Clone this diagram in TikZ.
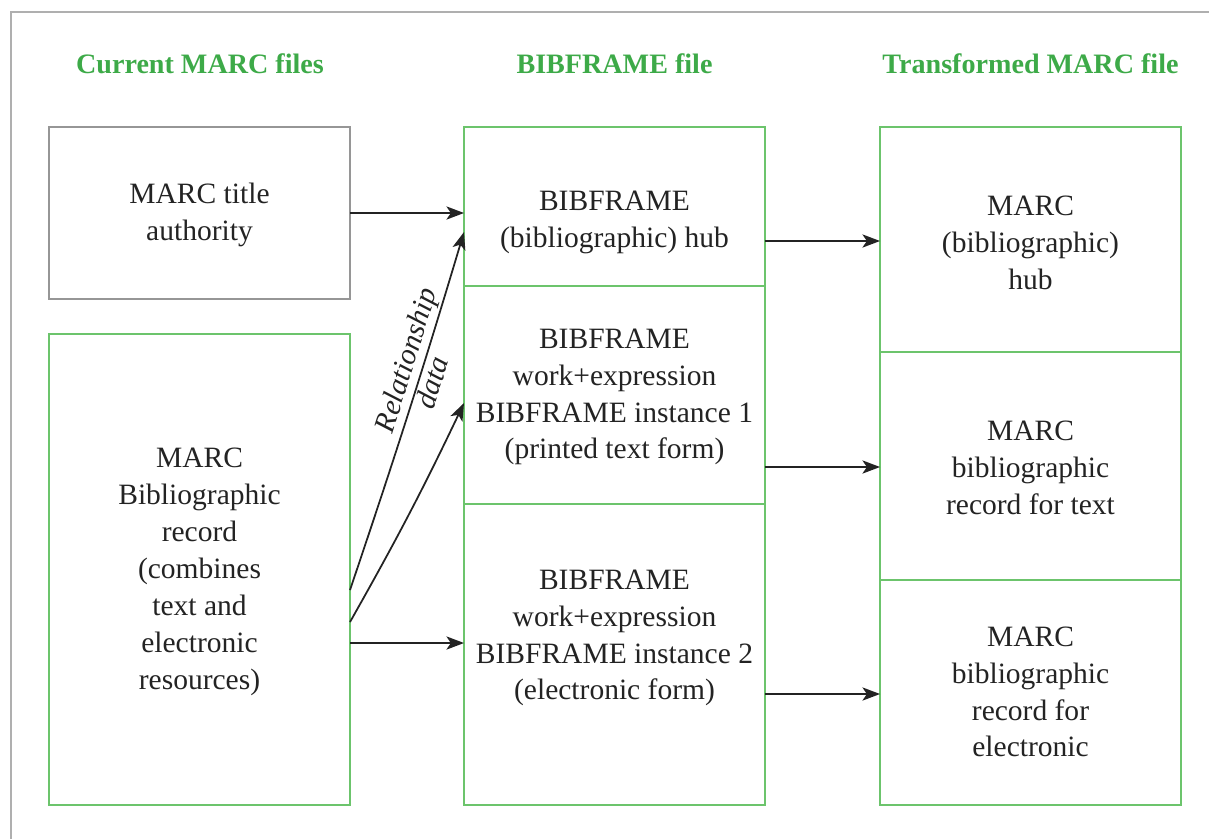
\documentclass[tikz,border=0pt]{standalone}
\usepackage{fontspec}
\setmainfont{Liberation Serif}
\usetikzlibrary{arrows.meta}
\definecolor{boxgreen}{RGB}{108,196,108}
\definecolor{headgreen}{RGB}{61,170,72}
\definecolor{boxgray}{RGB}{150,150,150}
\definecolor{framegray}{RGB}{175,175,175}
\definecolor{inkgray}{RGB}{35,35,35}
\tikzset{
  cell/.style={draw=boxgreen, line width=0.85pt, inner sep=0pt, outer sep=0pt, minimum width=6.02cm},
  graycell/.style={cell, draw=boxgray},
  heading/.style={text=headgreen, font=\fontsize{16}{19}\selectfont\bfseries},
  celltext/.style={text=inkgray, align=center, font=\fontsize{16.8}{21}\selectfont},
  slanted/.style={text=inkgray, sloped, inner sep=1pt, font=\fontsize{16.8}{21}\selectfont\itshape},
  link/.style={-{Stealth[length=10pt,width=7.5pt,inset=2.5pt]}, line width=1pt, draw=inkgray}
}
\begin{document}
\begin{tikzpicture}[x=0.02cm,y=-0.02cm]
  \useasboundingbox (0,0) rectangle (1209,839);
  \draw[framegray, line width=0.85pt] (11,839) -- (11,12) -- (1209,12);
  % column headings
  \node[heading] (hcur) at (200,64) {Current MARC files};
  \node[heading] (hbib) at (614.5,64) {BIBFRAME file};
  \node[heading] (htra) at (1030.5,64) {Transformed MARC file};
  % current MARC files
  \node[graycell, minimum height=3.44cm] (mtitle) at (199.5,213) {};
  \node[cell, minimum height=9.42cm] (mbib) at (199.5,569.5) {};
  \node[celltext] (mtitlet) at (199.5,215) {MARC title\\authority};
  \node[celltext] (mbibt) at (199.5,572) {MARC\\Bibliographic\\record\\(combines\\text and\\electronic\\resources)};
  % BIBFRAME file
  \node[cell, minimum height=3.18cm] (hub) at (614.5,206.5) {};
  \node[cell, minimum height=4.36cm] (inst1) at (614.5,395) {};
  \node[cell, minimum height=6.02cm] (inst2) at (614.5,654.5) {};
  \node[celltext] (hubt) at (614.5,222) {BIBFRAME\\(bibliographic) hub};
  \node[celltext] (inst1t) at (614.5,397) {BIBFRAME\\work+expression\\BIBFRAME instance 1\\(printed text form)};
  \node[celltext] (inst2t) at (614.5,638) {BIBFRAME\\work+expression\\BIBFRAME instance 2\\(electronic form)};
  % transformed MARC file
  \node[cell, minimum height=4.5cm] (rhub) at (1030.5,239.5) {};
  \node[cell, minimum height=4.56cm] (rtext) at (1030.5,466) {};
  \node[cell, minimum height=4.5cm] (relec) at (1030.5,692.5) {};
  \node[celltext] (rhubt) at (1030.5,243) {MARC\\(bibliographic)\\hub};
  \node[celltext] (rtextt) at (1030.5,468) {MARC\\bibliographic\\record for text};
  \node[celltext] (relect) at (1030.5,692) {MARC\\bibliographic\\record for\\electronic};
  % connectors
  \coordinate (relA) at (350,590);
  \coordinate (relB) at (350,622);
  \coordinate (relC) at (350,643);
  \coordinate (hubin) at (464,232);
  \coordinate (inst1in) at (464,403);
  \draw[link] (mtitle.east) -- (hub.west |- mtitle.east);
  \draw[link] (relA) to[bend right=1]
    node[pos=0.64, slanted, above] (rellab) {Relationship}
    node[pos=0.6, slanted, below] (datlab) {data} (hubin);
  \draw[link] (relB) to[bend right=2] (inst1in);
  \draw[link] (relC) -- (inst2.west |- relC);
  \draw[link] (hub.east |- 0,241) -- (rhub.west |- 0,241);
  \draw[link] (inst1.east |- 0,467) -- (rtext.west |- 0,467);
  \draw[link] (inst2.east |- 0,694) -- (relec.west |- 0,694);
\end{tikzpicture}
\end{document}
